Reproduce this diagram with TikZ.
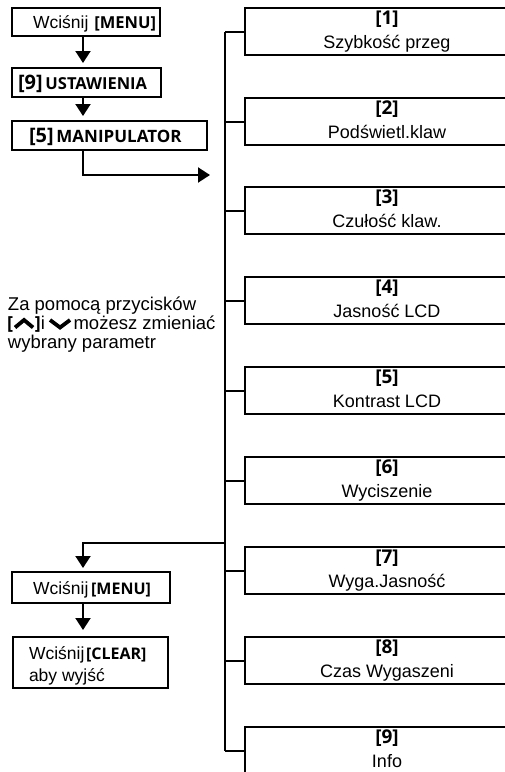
\documentclass[tikz,border=0pt]{standalone}
\usepackage{fontspec}
\setmainfont{Liberation Sans}
\newfontfamily\osfont{Open Sans}
\usetikzlibrary{arrows.meta,calc}
\newcommand\bkt[2]{{\osfont\bfseries\fontsize{#1}{#1}\selectfont #2}}
\newcommand\reg[1]{{\fontsize{17.5}{20}\selectfont #1}}
\newcommand\side[1]{{\fontsize{18.5}{20}\selectfont #1}}
\begin{document}
\begin{tikzpicture}[x=1pt,y=-1pt,
  line width=2pt,
  lbox/.style={draw,rectangle,inner sep=0pt,outer sep=0pt,anchor=north west},
  rbox/.style={draw,rectangle,inner sep=0pt,outer sep=0pt,anchor=north west,minimum width=284pt,minimum height=47pt},
  arr/.style={-{Triangle[length=12pt,width=15pt]}},
  lbl/.style={inner sep=0pt,anchor=base},
  txt/.style={inner sep=0pt,anchor=base west}]
\useasboundingbox (0,0) rectangle (505,772);
\clip (0,0) rectangle (505,772);
\fill[white] (0,0) rectangle (505,772);
% left column
\node[lbox,minimum width=148pt,minimum height=28pt] (A) at (12,8) {};
\node[txt] (At) at (32,28) {\reg{Wciśnij}\hspace{6pt}\bkt{16.5}{[MENU]}};
\node[lbox,minimum width=149pt,minimum height=29pt] (B) at (12,68) {};
\node[txt] (Bt) at (17,89) {\bkt{20}{[9]} \bkt{16.5}{USTAWIENIA}};
\node[lbox,minimum width=195pt,minimum height=29pt] (C) at (12,121) {};
\node[txt] (Ct) at (28,142) {\bkt{20}{[5]} \bkt{17}{MANIPULATOR}};
\node[lbox,minimum width=158pt,minimum height=31pt] (D) at (12,572) {};
\node[txt] (Dt) at (32,594) {\reg{Wciśnij} \bkt{16}{[MENU]}};
\node[lbox,minimum width=155pt,minimum height=51pt] (E) at (13,637) {};
\node[txt] (E1) at (28,659) {\reg{Wciśnij}\,\bkt{16}{[CLEAR]}};
\node[txt] (E2) at (28,681) {\reg{aby wyjść}};
\coordinate (col) at (83,0);
\coordinate (trunk) at (225,0);
\coordinate (ctip) at (210,175);
\coordinate (tj) at (225,543);
% side note
\node[txt] (n1) at (7,310) {\side{Za pomocą przycisków}};
\node[txt] (n2) at (7,329) {\bkt{18}{[}\tikz[baseline=0pt]\draw[line width=3.8pt,line join=miter] (0pt,1.5pt)--(9pt,9pt)--(18pt,1.5pt);\bkt{18}{]}\side{i\,}\tikz[baseline=0pt]\draw[line width=3.8pt,line join=miter] (0pt,9pt)--(10pt,1.5pt)--(20pt,9pt);\,\side{możesz zmieniać}};
\node[txt] (n3) at (7,348) {\side{wybrany parametr}};
% right column
\foreach \k/\t/\name in {1/8/Szybkość przeg,2/98/Podświetl.klaw,3/187/Czułość klaw.,4/277/Jasność LCD,5/367/Kontrast LCD,6/457/Wyciszenie,7/547/Wyga.Jasność,8/637/Czas Wygaszeni,9/727/Info}{
  \node[rbox] (r\k) at (245,\t) {};
  \node[lbl] (rn\k) at ($(r\k.north west)+(142,16)$) {\bkt{19}{[\k]}};
  \node[lbl] (rt\k) at ($(r\k.north west)+(142,40)$) {{\fontsize{18}{20}\selectfont \name}};
  \draw (r\k.west -| trunk) -- (r\k.west);
}
\draw (r1.west -| trunk) -- (r9.west -| trunk);
% arrows
\draw[arr,shorten >=5pt] (A.south -| col) -- (B.north -| col);
\draw[arr,shorten >=5pt] (B.south -| col) -- (C.north -| col);
\draw[arr] (C.south -| col) |- (ctip);
\draw[arr,shorten >=4pt] (tj) -| (D.north -| col);
\draw[arr,shorten >=7pt] (D.south -| col) -- (E.north -| col);
\end{tikzpicture}
\end{document}
